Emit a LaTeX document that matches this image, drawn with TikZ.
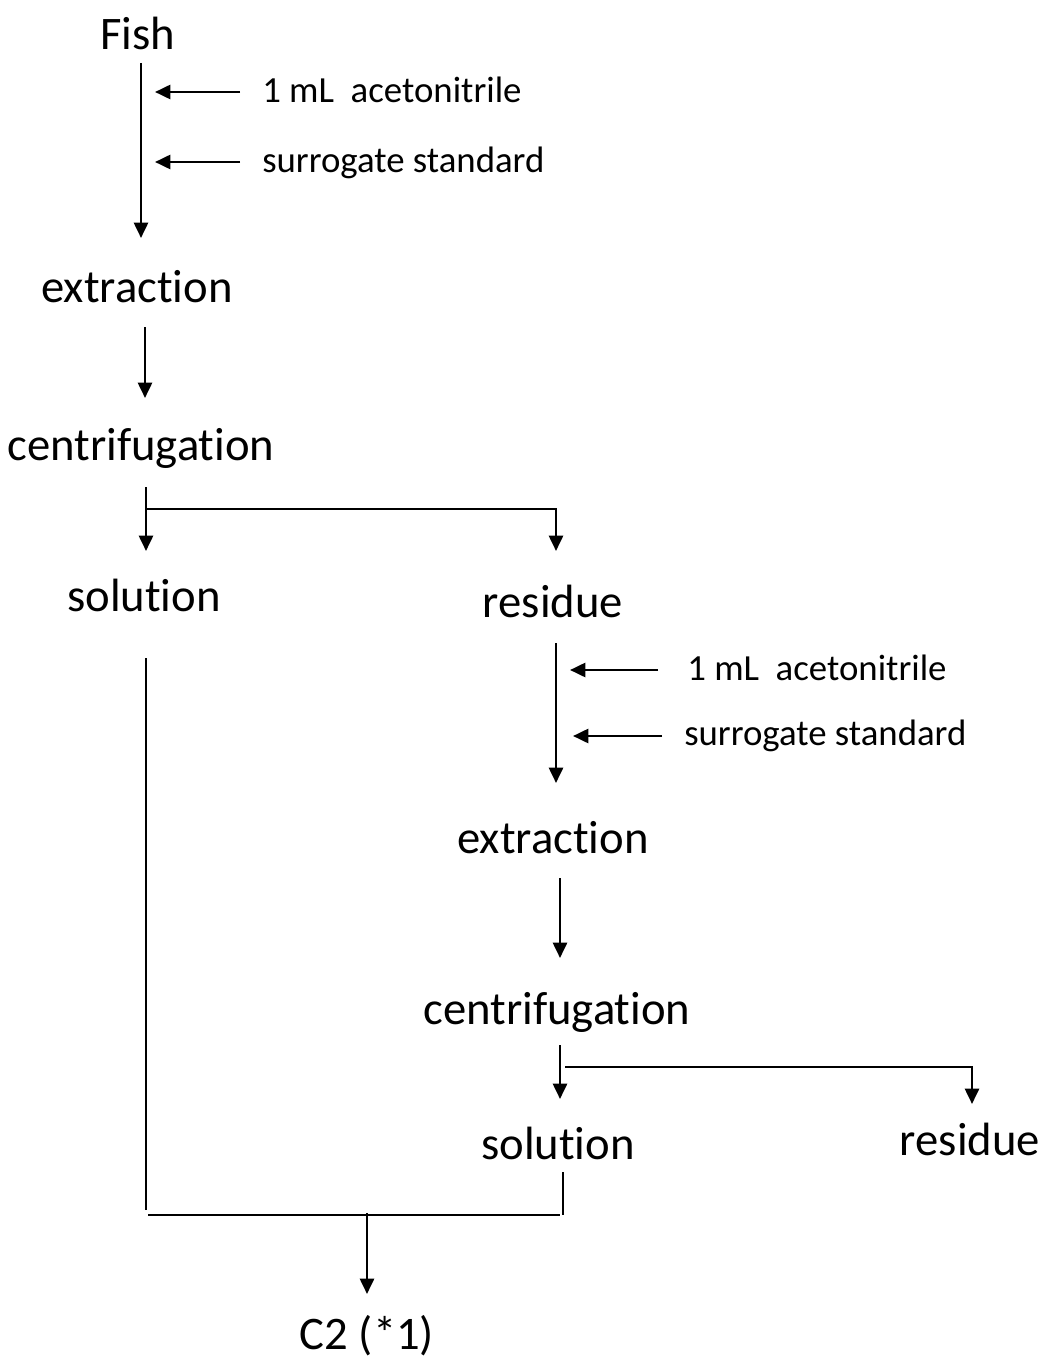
\documentclass[tikz,border=0pt]{standalone}
\usepackage{fontspec}
\setmainfont[RawFeature={-liga;-clig;-dlig;-calt}]{Carlito}
\usetikzlibrary{arrows.meta}
\begin{document}
\begin{tikzpicture}[x=0.75pt,y=-0.75pt,
  big/.style={font=\fontsize{35}{42}\selectfont, inner sep=0pt, anchor=center},
  small/.style={font=\fontsize{27.6}{32}\selectfont, inner sep=0pt, anchor=west},
  ln/.style={line width=2pt},
  arr/.style={line width=2pt, -{Triangle[length=11.5pt,width=10.5pt]}}]
\useasboundingbox (0,0) rectangle (1044,1362);
% nodes
\node[big] (fish) at (138,33) {Fish};
\node[small] (acn1) at (262,90) {1 mL\ \ acetonitrile};
\node[small] (sur1) at (262,163) {surrogate standard};
\node[big] (ext1) at (137,287) {extraction};
\node[big] (cen1) at (141,448) {centrifugation};
\node[big] (sol1) at (144,595) {solution};
\node[big] (res1) at (553,601) {residue};
\node[small] (acn2) at (687,668) {1 mL\ \ acetonitrile};
\node[small] (sur2) at (684,736) {surrogate standard};
\node[big] (ext2) at (553,838) {extraction};
\node[big] (cen2) at (557,1012) {centrifugation};
\node[big] (sol2) at (558,1143) {solution};
\node[big] (res2) at (970,1139) {residue};
\node[big] (c2) at (367,1336) {C2 (*1)};
% coordinates
\coordinate (f1) at (141,63); \coordinate (f2) at (141,238);
\coordinate (a1s) at (240,92); \coordinate (a1e) at (155,92);
\coordinate (s1s) at (240,162); \coordinate (s1e) at (155,162);
\coordinate (e1a) at (145,327); \coordinate (e1b) at (145,398);
\coordinate (c1a) at (146,487); \coordinate (c1j) at (146,509);
\coordinate (c1b) at (146,551); \coordinate (c1r) at (556,509); \coordinate (c1rb) at (556,551);
\coordinate (r1a) at (556,643); \coordinate (r1b) at (556,783);
\coordinate (a2s) at (658,670); \coordinate (a2e) at (570,670);
\coordinate (s2s) at (662,736); \coordinate (s2e) at (573,736);
\coordinate (e2a) at (560,878); \coordinate (e2b) at (560,958);
\coordinate (c2a) at (560,1045); \coordinate (c2b) at (560,1099);
\coordinate (c2l) at (565,1067); \coordinate (c2r) at (972,1067); \coordinate (c2rb) at (972,1104);
\coordinate (sl1a) at (146,658); \coordinate (sl1b) at (146,1210);
\coordinate (sl2a) at (563,1172); \coordinate (sl2b) at (563,1215);
\coordinate (bl) at (148,1215); \coordinate (br) at (560,1215);
\coordinate (ma) at (367,1213); \coordinate (mb) at (367,1294);
% connectors
\draw[arr] (f1) -- (f2);
\draw[arr] (a1s) -- (a1e);
\draw[arr] (s1s) -- (s1e);
\draw[arr] (e1a) -- (e1b);
\draw[arr] (c1a) -- (c1b);
\draw[arr] (c1j) -- (c1r) -- (c1rb);
\draw[arr] (r1a) -- (r1b);
\draw[arr] (a2s) -- (a2e);
\draw[arr] (s2s) -- (s2e);
\draw[arr] (e2a) -- (e2b);
\draw[arr] (c2a) -- (c2b);
\draw[arr] (c2l) -- (c2r) -- (c2rb);
\draw[ln] (sl1a) -- (sl1b);
\draw[ln] (sl2a) -- (sl2b);
\draw[ln] (bl) -- (br);
\draw[arr] (ma) -- (mb);
\end{tikzpicture}
\end{document}
